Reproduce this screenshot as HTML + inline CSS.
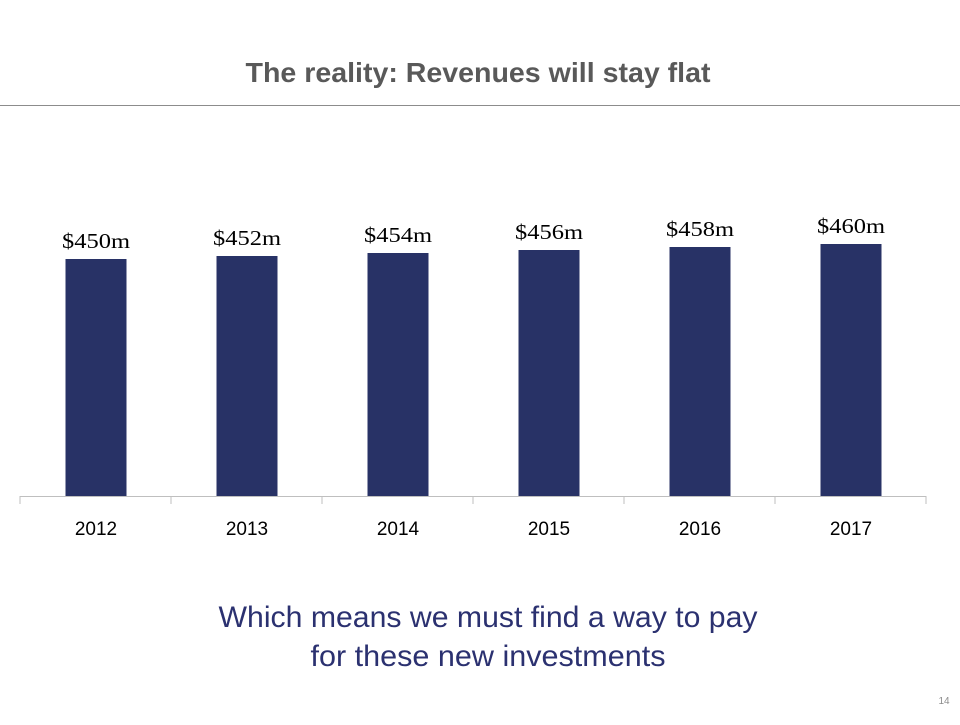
<!DOCTYPE html>
<html><head><meta charset="utf-8"><style>
body{margin:0;width:960px;height:720px;background:#fff;overflow:hidden;font-family:"Liberation Sans",sans-serif}
</style></head><body>
<svg width="960" height="720">
<text x="478" y="82" text-anchor="middle" font-size="28" font-weight="bold" fill="#595959" textLength="465" lengthAdjust="spacingAndGlyphs">The reality: Revenues will stay flat</text>
<line x1="0" y1="105.5" x2="960" y2="105.5" stroke="#8c8c8c" stroke-width="1"/>
<g id="chart"></g>
<text x="488" y="627" text-anchor="middle" font-size="30" fill="#2b3170" textLength="539" lengthAdjust="spacingAndGlyphs">Which means we must find a way to pay</text>
<text x="488" y="666" text-anchor="middle" font-size="30" fill="#2b3170" textLength="355" lengthAdjust="spacingAndGlyphs">for these new investments</text>
<text x="944" y="704" text-anchor="middle" font-size="10" fill="#8c8c8c">14</text>
</svg>
<script>
const categories=["2012","2013","2014","2015","2016","2017"];
const values=[450,452,454,456,458,460];
const valueLabels=["$450m","$452m","$454m","$456m","$458m","$460m"];
const ns="http://www.w3.org/2000/svg";
const g=document.getElementById("chart");
const x0=20,x1=926,baseY=496,vMin=292,k=1.5;
const bw=(x1-x0)/categories.length;
const y=v=>baseY-(v-vMin)*k;
function mk(t,a){const e=document.createElementNS(ns,t);for(const n in a)e.setAttribute(n,a[n]);g.appendChild(e);return e;}
categories.forEach((c,i)=>{
 const cx=x0+bw*(i+0.5)+0.5;
 const r=mk("rect",{x:cx-30.5,y:y(values[i]),width:61,height:baseY-y(values[i]),fill:"#283266"});
 
 
 const l=mk("text",{x:cx,y:y(values[i])-11,"text-anchor":"middle","font-size":"21","font-family":"Liberation Serif, serif",fill:"#000",textLength:"68",lengthAdjust:"spacingAndGlyphs"});
 l.textContent=valueLabels[i];
 
 
 const t=mk("text",{x:cx,y:535,"text-anchor":"middle","font-size":"19",fill:"#000"});
 t.textContent=c;
 
 
});
for(let i=0;i<=categories.length;i++){
 const tx=x0+bw*i;
 const tk=mk("line",{x1:tx,y1:baseY,x2:tx,y2:baseY+8,stroke:"#bfbfbf"});
 
 
}
const ax=mk("line",{x1:x0,y1:baseY+0.5,x2:x1,y2:baseY+0.5,stroke:"#bfbfbf"});


</script>
</body></html>
